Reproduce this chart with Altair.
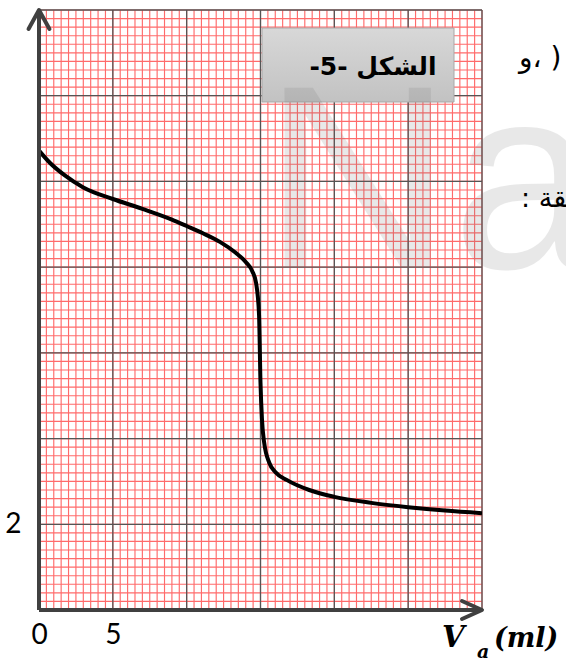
import altair as alt
import pandas as pd

# Titration curve: pH of the solution against the volume of acid added (ml)
va = [0, 0.75, 1.75, 3.0, 5.0, 7.0, 9.0, 10.0, 11.1, 12.25, 13.3, 14.0, 14.45,
      14.7, 14.9, 15.0, 15.1, 15.25, 15.6, 16.0, 16.8, 18.3, 20.0, 22.5, 25.0, 27.5, 30.0]
ph = [10.72, 10.43, 10.14, 9.86, 9.59, 9.36, 9.11, 8.96, 8.79, 8.59, 8.34, 8.12, 7.90,
      7.63, 6.90, 5.30, 4.45, 3.90, 3.43, 3.22, 3.03, 2.80, 2.64, 2.50, 2.40, 2.32, 2.26]

# graph-paper divisions
x_major = [0, 5, 10, 15, 20, 25, 30]
y_major = [0, 2, 4, 6, 8, 10, 12, 14]
x_minor = [i * 0.5 for i in range(61)]
y_minor = [round(i * 0.2, 2) for i in range(71)]

# labelled ticks
x_ticks = [0, 5]
y_ticks = [2]

curve = pd.DataFrame({"va": va, "ph": ph})
xs = alt.Scale(domain=[0, 30], nice=False, zero=False)
ys = alt.Scale(domain=[0, 14], nice=False, zero=False)
one = alt.Data(values=[{"k": 0}])

# one axis definition per channel, shared by every layer
ax_x = alt.Axis(values=x_ticks, domain=False, ticks=False, grid=False,
                labelFont="Lato", labelFontSize=28, labelColor="black",
                labelPadding=11, labelFlush=False, title=None)
ax_y = alt.Axis(values=y_ticks, domain=False, ticks=False, grid=False,
                labelFont="Lato", labelFontSize=28, labelColor="black",
                labelPadding=18, title=None)


def X(field):
    return alt.X(field, scale=xs, axis=ax_x, title=None)


def Y(field):
    return alt.Y(field, scale=ys, axis=ax_y, title=None)


RED = "#ff6b6b"
MAJ = "#555555"
AX = "#404040"

minor_v = alt.Chart(pd.DataFrame({"v": x_minor})).mark_rule(
    color=RED, strokeWidth=1.15).encode(x=X("v:Q"))
minor_h = alt.Chart(pd.DataFrame({"v": y_minor})).mark_rule(
    color=RED, strokeWidth=1.15).encode(y=Y("v:Q"))
major_v = alt.Chart(pd.DataFrame({"v": x_major})).mark_rule(
    color=MAJ, strokeWidth=1.3).encode(x=X("v:Q"))
major_h = alt.Chart(pd.DataFrame({"v": y_major})).mark_rule(
    color=MAJ, strokeWidth=1.3).encode(y=Y("v:Q"))

line = alt.Chart(curve).mark_line(
    color="black", strokeWidth=4, interpolate="monotone", clip=True
).encode(x=X("va:Q"), y=Y("ph:Q"))

# coordinate axes with open arrow heads
axes_df = pd.DataFrame({"x": [0, 0], "x2": [30, 0], "y": [0, 0], "y2": [0, 14]})
axes = alt.Chart(axes_df).mark_rule(color=AX, strokeWidth=4).encode(
    x=X("x:Q"), x2="x2:Q", y=Y("y:Q"), y2="y2:Q")

arrow_up = alt.Chart(pd.DataFrame({"x": [0], "y": [14]})).mark_point(
    shape="M -0.55 1 L 0 0 L 0.55 1", filled=False, size=1444,
    stroke=AX, strokeWidth=4, strokeCap="round", strokeJoin="round", opacity=1
).encode(x=X("x:Q"), y=Y("y:Q"))
arrow_right = alt.Chart(pd.DataFrame({"x": [30], "y": [0]})).mark_point(
    shape="M -1 -0.45 L 0 0 L -1 0.45", filled=False, size=1600,
    stroke=AX, strokeWidth=4, strokeCap="round", strokeJoin="round", opacity=1
).encode(x=X("x:Q"), y=Y("y:Q"))

# figure caption box
box_fill = alt.LinearGradient(
    gradient="linear",
    stops=[alt.GradientStop(color="#d8d8d8", offset=0),
           alt.GradientStop(color="#c2c2c2", offset=1)],
    x1=0, x2=0, y1=0, y2=1)
box = alt.Chart(one).mark_rect(fill=box_fill, stroke="#a8a8a8", strokeWidth=1).encode(
    x=alt.value(223), x2=alt.value(415), y=alt.value(18), y2=alt.value(92))
box_text = alt.Chart(one).mark_text(
    text="\u202bالشكل -5-\u202c", font="DejaVu Sans", fontWeight="bold",
    fontSize=25, color="black", align="center", baseline="alphabetic"
).encode(x=alt.value(334), y=alt.value(65))

# faint watermark
watermark = alt.Chart(one).mark_text(
    text="Na", font="Liberation Sans", fontSize=262, color="#6c6c6c", opacity=0.15,
    align="left", baseline="alphabetic"
).encode(x=alt.value(224), y=alt.value(258))

# surrounding text of the page
side1 = alt.Chart(one).mark_text(
    text="\u202b( ،و\u202c", font="DejaVu Sans", fontSize=28, color="black",
    align="left", baseline="alphabetic"
).encode(x=alt.value(480), y=alt.value(57))
side2 = alt.Chart(one).mark_text(
    text="\u202bالمتعلقة :\u202c", font="DejaVu Sans", fontSize=27, color="black",
    align="left", baseline="alphabetic"
).encode(x=alt.value(482), y=alt.value(197))

# x axis title V_a(ml)
t_v = alt.Chart(one).mark_text(
    text="V", font="DejaVu Serif", fontWeight="bold", fontStyle="italic",
    fontSize=29, color="black", align="left", baseline="alphabetic"
).encode(x=alt.value(403), y=alt.value(637))
t_a = alt.Chart(one).mark_text(
    text="a", font="DejaVu Serif", fontWeight="bold", fontStyle="italic",
    fontSize=19, color="black", align="left", baseline="alphabetic"
).encode(x=alt.value(438), y=alt.value(648))
t_ml = alt.Chart(one).mark_text(
    text="(ml)", font="DejaVu Serif", fontWeight="bold", fontStyle="italic",
    fontSize=27, color="black", align="left", baseline="alphabetic"
).encode(x=alt.value(455), y=alt.value(637))

chart = alt.layer(
    minor_v, minor_h, major_v, major_h, line, axes, arrow_up, arrow_right,
    box, box_text, watermark, side1, side2, t_v, t_a, t_ml
).properties(
    width=443, height=600,
    padding={"left": 39, "top": 10, "right": 84, "bottom": 54},
    autosize=alt.AutoSizeParams(type="none"),
    background="white",
).configure_view(stroke=None)

chart.save("out.html", embed_options={"renderer": "svg", "actions": False})
